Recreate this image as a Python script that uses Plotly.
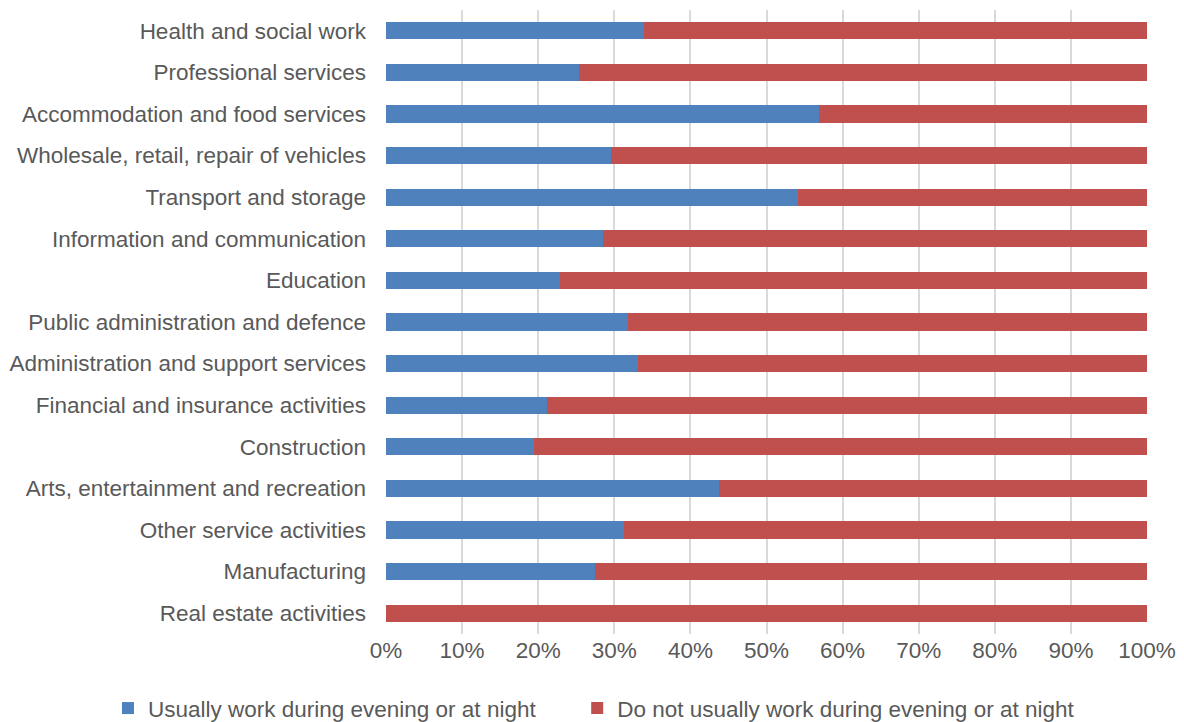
import plotly.graph_objects as go

categories = [
    "Health and social work",
    "Professional services",
    "Accommodation and food services",
    "Wholesale, retail, repair of vehicles",
    "Transport and storage",
    "Information and communication",
    "Education",
    "Public administration and defence",
    "Administration and support services",
    "Financial and insurance activities",
    "Construction",
    "Arts, entertainment and recreation",
    "Other service activities",
    "Manufacturing",
    "Real estate activities",
]
usually = [33.9, 25.4, 56.9, 29.5, 54.1, 28.5, 22.9, 31.8, 33.1, 21.2, 19.5, 43.8, 31.3, 27.4, 0.0]
not_usually = [round(100 - v, 1) for v in usually]

series_names = ["Usually work during evening or at night",
                "Do not usually work during evening or at night"]
colors = ["#4F81BD", "#C0504D"]
legend_ids = ["legend", "legend2"]

fig = go.Figure()
for name, vals, col, lg in zip(series_names, [usually, not_usually], colors, legend_ids):
    fig.add_trace(go.Bar(
        y=categories, x=vals, name=name, orientation="h",
        marker=dict(color=col, line=dict(width=0)),
        legend=lg,
    ))

font_family = "Liberation Sans, Arial, sans-serif"
fs = 22.5
legend_common = dict(orientation="h", xref="container", yref="container",
                     y=0.019, xanchor="left", yanchor="middle",
                     font=dict(size=fs, color="#595959"),
                     itemwidth=30, bgcolor="rgba(0,0,0,0)")
fig.update_layout(
    barmode="stack",
    bargap=0.59,
    width=1176, height=714,
    margin=dict(l=378, r=37, t=2, b=88),
    paper_bgcolor="white", plot_bgcolor="white",
    font=dict(family=font_family, size=fs, color="#595959"),
    showlegend=True,
    legend=dict(x=0.085, **legend_common),
    legend2=dict(x=0.484, **legend_common),
    xaxis=dict(range=[0, 100], dtick=10, ticksuffix="%",
               showgrid=True, gridcolor="#D9D9D9", gridwidth=1.5,
               zeroline=False, showline=False, ticks="",
               tickfont=dict(size=fs, color="#595959")),
    yaxis=dict(autorange="reversed", showgrid=False, ticks="",
               ticklabelstandoff=19,
               tickfont=dict(size=fs, color="#595959")),
)
fig.write_html("out.html")
